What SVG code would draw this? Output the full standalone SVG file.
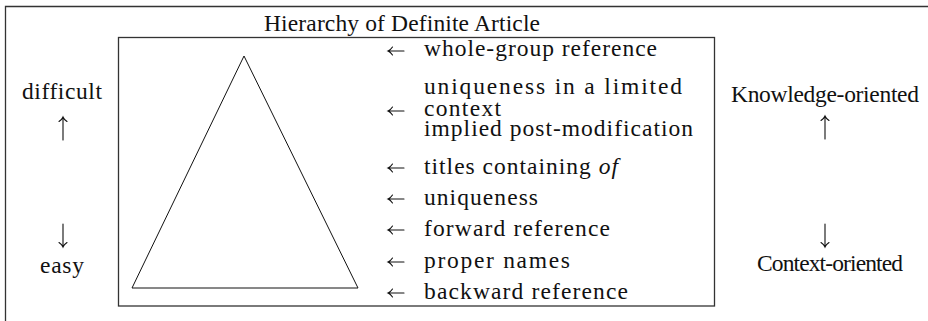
<svg xmlns="http://www.w3.org/2000/svg" width="928" height="321" viewBox="0 0 928 321">
<style>
text{font-family:"Liberation Serif","Times New Roman",serif;font-size:23.5px;fill:#111}
.frame{fill:none;stroke:#333;stroke-width:1.3}
.ln{fill:none;stroke:#111;stroke-width:1}
.ar{fill:none;stroke:#111;stroke-width:1.1;stroke-linecap:round}
</style>
<defs>
<path id="la" d="M0,0 H16 M4.5,-4 Q2.5,-1 0,0 Q2.5,1 4.5,4"/>
<path id="ua" d="M0,0 V23 M-4,4.5 Q-1,2.5 0,0 Q1,2.5 4,4.5"/>
<path id="da" d="M0,0 V23 M-4,18.5 Q-1,20.5 0,23 Q1,20.5 4,18.5"/>
</defs>
<rect width="928" height="321" fill="#fff"/>
<g id="frame">
<path class="frame" d="M5.5,321 V6.5 H928"/>
</g>
<g id="title"><text x="264" y="31" textLength="276" lengthAdjust="spacing">Hierarchy of Definite Article</text></g>
<g id="box"><rect class="frame" x="118.5" y="37.5" width="596" height="268.5"/></g>
<g id="triangle"><polygon class="ln" points="244,56 132,288 358,288"/></g>
<g id="left-scale">
<text x="22" y="99" textLength="80" lengthAdjust="spacing">difficult</text>
<text x="40" y="273" textLength="44" lengthAdjust="spacing">easy</text>
</g>
<g id="right-scale">
<text x="731" y="102" textLength="188" lengthAdjust="spacing">Knowledge-oriented</text>
<text x="757" y="271" textLength="146" lengthAdjust="spacing">Context-oriented</text>
</g>
<g id="levels">
<text x="424" y="56" textLength="233" lengthAdjust="spacing">whole-group reference</text>
<text x="424" y="94" textLength="258" lengthAdjust="spacing">uniqueness in a limited</text>
<text x="424" y="116" textLength="77" lengthAdjust="spacing">context</text>
<text x="424" y="136" textLength="269" lengthAdjust="spacing">implied post-modification</text>
<text x="424" y="174" textLength="194" lengthAdjust="spacing">titles containing <tspan font-style="italic">of</tspan></text>
<text x="424" y="205" textLength="114" lengthAdjust="spacing">uniqueness</text>
<text x="424" y="236" textLength="186" lengthAdjust="spacing">forward reference</text>
<text x="424" y="268" textLength="146" lengthAdjust="spacing">proper names</text>
<text x="424" y="299" textLength="204" lengthAdjust="spacing">backward reference</text>
</g>
<g id="connectors">
<use class="ar" href="#la" x="388" y="51"/>
<use class="ar" href="#la" x="388" y="111"/>
<use class="ar" href="#la" x="388" y="168"/>
<use class="ar" href="#la" x="388" y="199"/>
<use class="ar" href="#la" x="388" y="230"/>
<use class="ar" href="#la" x="388" y="262"/>
<use class="ar" href="#la" x="388" y="293"/>
<use class="ar" href="#ua" x="63" y="117"/>
<use class="ar" href="#da" x="63" y="224"/>
<use class="ar" href="#ua" x="825" y="116"/>
<use class="ar" href="#da" x="825" y="224"/>
</g>
</svg>
